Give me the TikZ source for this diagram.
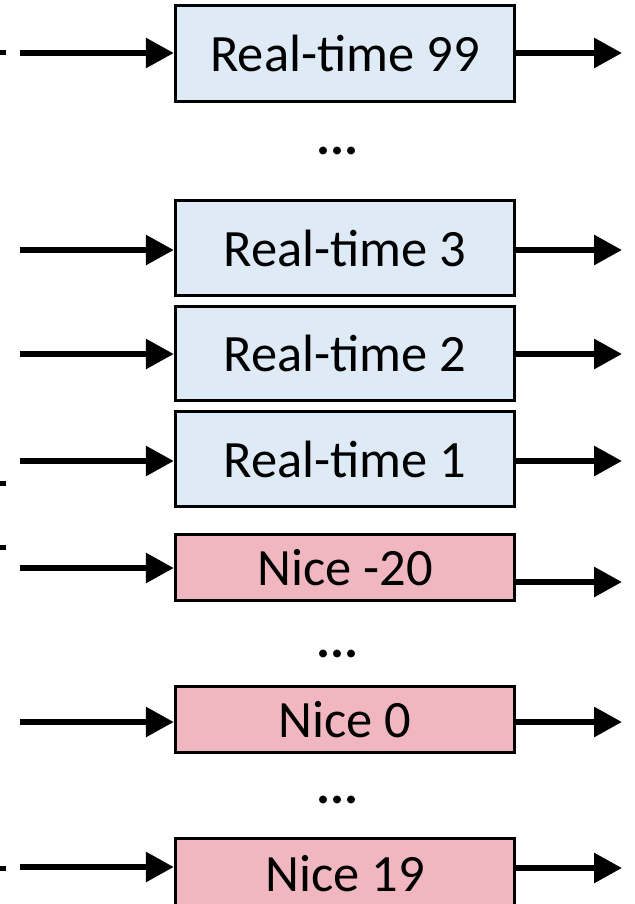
\documentclass[tikz,border=0pt]{standalone}
\usepackage{fontspec}
\setmainfont{Carlito}
\usetikzlibrary{arrows.meta}
\definecolor{rtblue}{RGB}{222,234,246}
\definecolor{nicepink}{RGB}{240,183,192}
\begin{document}
\begin{tikzpicture}[x=1pt,y=-1pt,
  qbox/.style={draw=black,line width=3.4pt,minimum width=339pt,inner sep=0pt,
    font=\fontsize{52.5}{60}\selectfont},
  rt/.style={qbox,fill=rtblue},
  nice/.style={qbox,fill=nicepink},
  arr/.style={line width=6pt,-{Triangle[length=28pt 0 0,width=29pt 0 0]}},
  stub/.style={line width=5pt},
  dots/.style={anchor=base,inner sep=0pt,font=\fontsize{52.5}{60}\selectfont\bfseries}]
\useasboundingbox (0,0) rectangle (634,904);
\clip (0,0) rectangle (634,904);
% boxes
\node[rt,minimum height=96pt] (r99) at (345,53.5) {Real-time 99};
\node[rt,minimum height=95pt] (r3) at (345,248) {Real-time 3};
\node[rt,minimum height=94pt] (r2) at (345,353.5) {Real-time 2};
\node[rt,minimum height=95pt] (r1) at (345,459) {Real-time 1};
\node[nice,minimum height=66pt] (n20) at (345,567.5) {Nice -20};
\node[nice,minimum height=66pt] (n0) at (345,719.5) {Nice 0};
\node[nice,minimum height=70pt] (n19) at (345,873.5) {Nice 19};
% dots
\node[dots] (d1) at (337.5,155) {...};
\node[dots] (d2) at (337.5,657) {...};
\node[dots] (d3) at (337.5,803) {...};
% incoming arrow start points
\coordinate (i99) at (20,53);
\coordinate (i3) at (20,250);
\coordinate (i2) at (20,354);
\coordinate (i1) at (20,461);
\coordinate (i20) at (20,568);
\coordinate (i0) at (20,722);
\coordinate (i19) at (20,867);
% outgoing arrow end points
\coordinate (o99) at (622,53);
\coordinate (o3) at (622,250);
\coordinate (o2) at (622,354);
\coordinate (o1) at (622,461);
\coordinate (o20) at (622,582);
\coordinate (o0) at (622,722);
\coordinate (o19) at (622,868);
\foreach \b/\n in {r99/99,r3/3,r2/2,r1/1,n20/20,n0/0,n19/19}{
  \draw[arr] (i\n) -- (i\n -| \b.west);
  \draw[arr] (o\n -| \b.east) -- (o\n);
}
% cut-off stubs at left edge
\coordinate (s1a) at (0,53);   \coordinate (s1b) at (5.5,53);
\coordinate (s2a) at (0,483);  \coordinate (s2b) at (5.5,483);
\coordinate (s3a) at (0,547);  \coordinate (s3b) at (5.5,547);
\coordinate (s4a) at (0,868);  \coordinate (s4b) at (5.5,868);
\draw[stub] (s1a) -- (s1b);
\draw[stub] (s2a) -- (s2b);
\draw[stub] (s3a) -- (s3b);
\draw[stub] (s4a) -- (s4b);
\end{tikzpicture}
\end{document}
